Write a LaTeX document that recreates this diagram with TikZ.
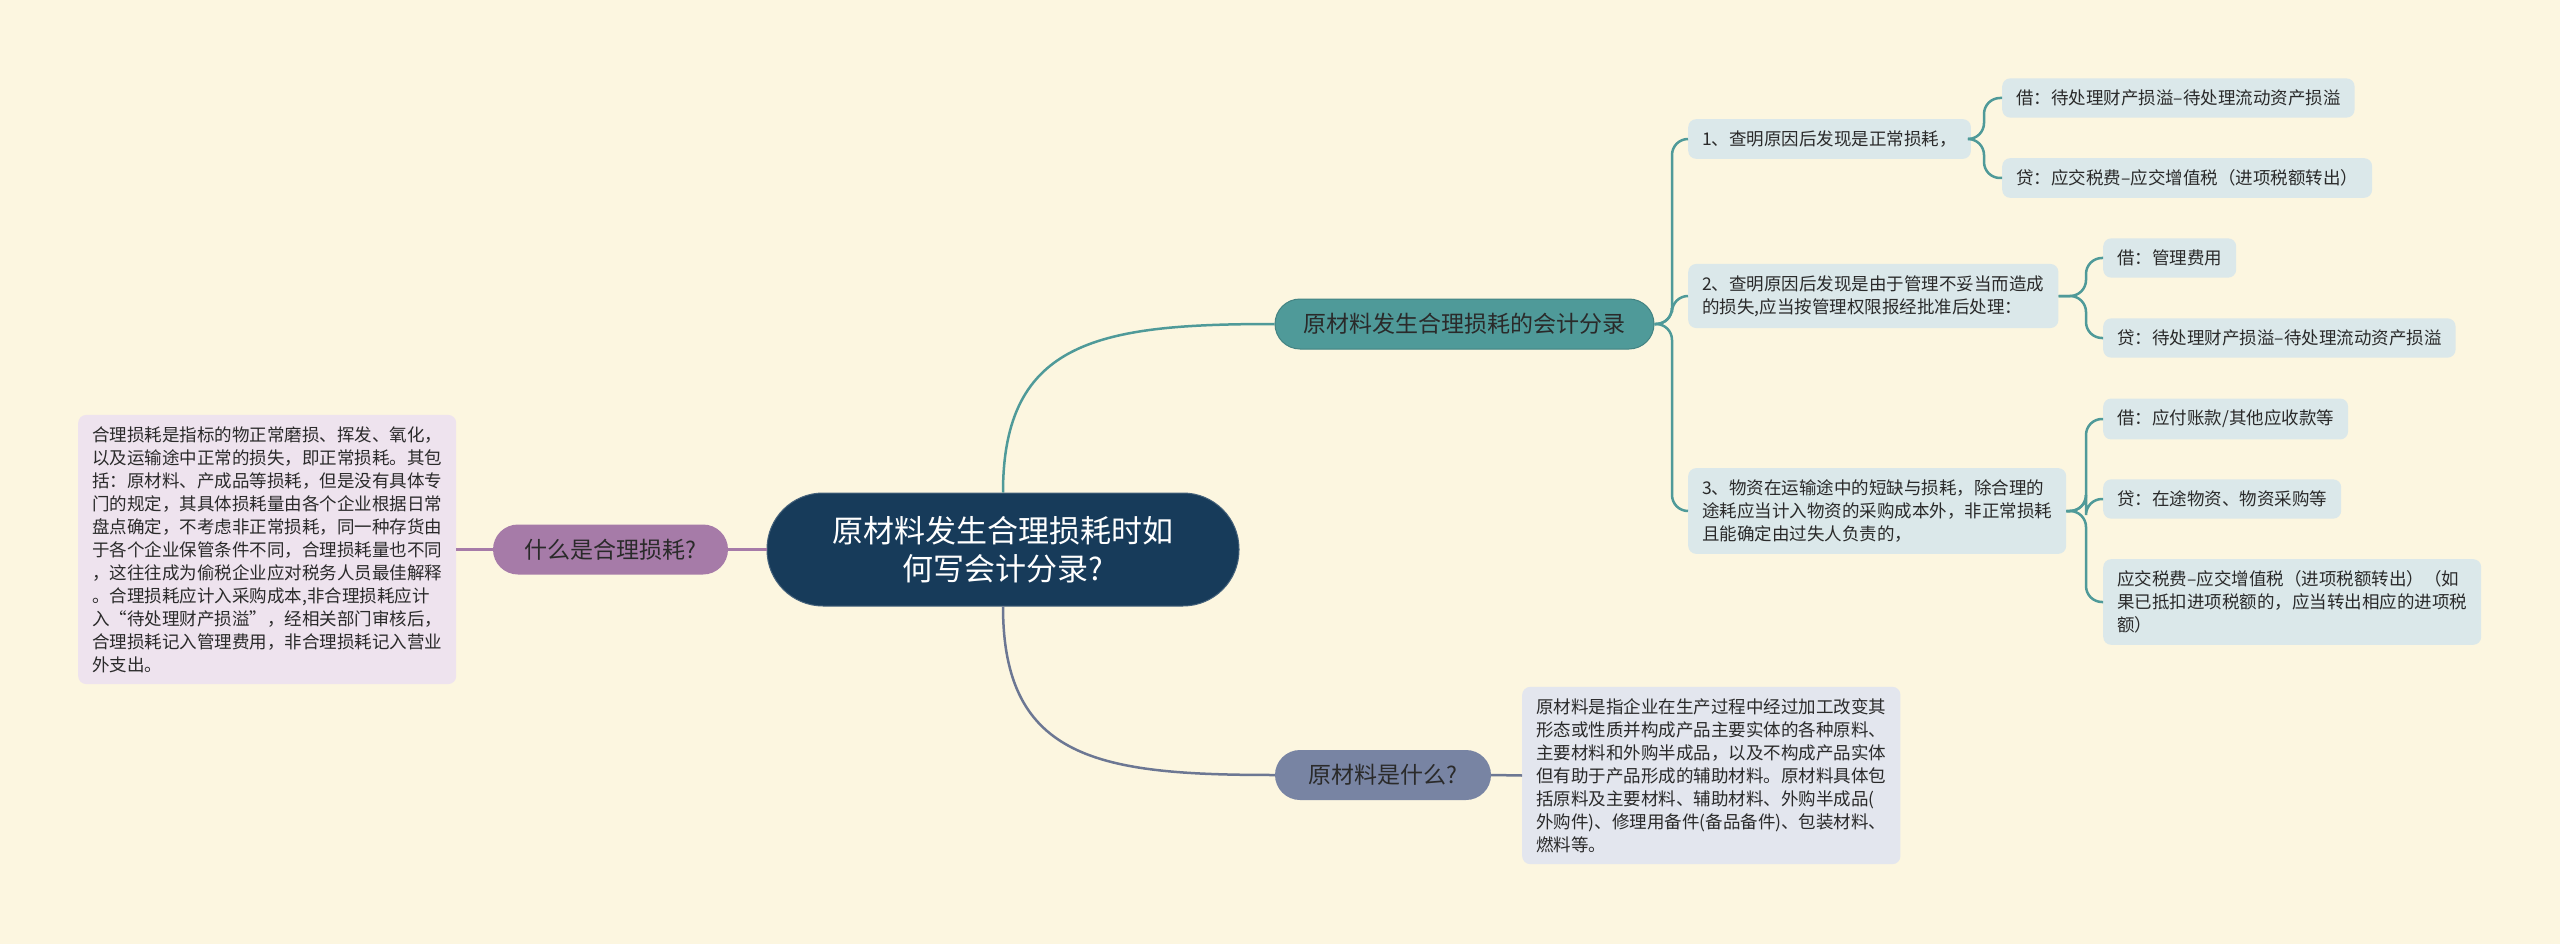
\documentclass[tikz,border=0pt]{standalone}
\usepackage{fontspec}
\setmainfont{Noto Sans CJK SC}
\definecolor{bgcream}{HTML}{FCF6E0}
\definecolor{navy}{HTML}{173B5A}
\definecolor{tealfill}{HTML}{4F9A99}
\definecolor{plum}{HTML}{A67BA8}
\definecolor{slate}{HTML}{7884A3}
\definecolor{leafblue}{HTML}{DBE8EA}
\definecolor{lavender}{HTML}{EEE3EE}
\definecolor{mist}{HTML}{E3E6EE}
\definecolor{inkdark}{HTML}{2A2A2A}
\tikzset{
  rootbox/.style={fill=navy, draw=navy!80!white, line width=1pt, rounded corners=56pt,
    minimum width=472pt, minimum height=113pt, text=white, align=center,
    font=\fontsize{31}{38}\selectfont},
  branchbox/.style={rounded corners=25pt, minimum height=50pt, text=inkdark,
    font=\fontsize{23}{28}\selectfont},
  leafbox/.style={fill=leafblue, rounded corners=8pt, anchor=west, align=left,
    inner xsep=14pt, inner ysep=11.5pt, text=inkdark,
    font=\fontsize{17.5}{23}\selectfont},
  link/.style={line width=2.5pt, rounded corners=16pt},
}
\begin{document}
\begin{tikzpicture}[x=1pt,y=-1pt]
  \fill[bgcream] (0,0) rectangle (2560,944);
  \useasboundingbox (0,0) rectangle (2560,944);
  % centre
  \node[rootbox] (root) at (1003,549.5) {原材料发生合理损耗时如\\何写会计分录?};
  % left branch
  \node[branchbox, fill=plum, minimum width=235pt] (what) at (610.5,549.5) {什么是合理损耗?};
  \node[leafbox, fill=lavender] (whatnote) at (78,549.5) {合理损耗是指标的物正常磨损、挥发、氧化，\\
    以及运输途中正常的损失，即正常损耗。其包\\
    括：原材料、产成品等损耗，但是没有具体专\\
    门的规定，其具体损耗量由各个企业根据日常\\
    盘点确定，不考虑非正常损耗，同一种存货由\\
    于各个企业保管条件不同，合理损耗量也不同\\
    ，这往往成为偷税企业应对税务人员最佳解释\\
    。合理损耗应计入采购成本,非合理损耗应计\\
    入“待处理财产损溢”，经相关部门审核后，\\
    合理损耗记入管理费用，非合理损耗记入营业\\
    外支出。};
  \draw[link, plum] (root.west) -- (what.east);
  \draw[link, plum] (what.west) -- (whatnote.east);
  % bottom branch
  \node[branchbox, fill=slate, minimum width=216pt] (raw) at (1383,775) {原材料是什么?};
  \node[leafbox, fill=mist] (rawnote) at (1522,775.5) {原材料是指企业在生产过程中经过加工改变其\\
    形态或性质并构成产品主要实体的各种原料、\\
    主要材料和外购半成品，以及不构成产品实体\\
    但有助于产品形成的辅助材料。原材料具体包\\
    括原料及主要材料、辅助材料、外购半成品(\\
    外购件)、修理用备件(备品备件)、包装材料、\\
    燃料等。};
  \draw[link, slate!90!black] (root.south) .. controls (1003,760) and (1100,775) .. (raw.west);
  \draw[link, slate!90!black] (raw.east) -- (rawnote.west);
  % top branch
  \node[branchbox, fill=tealfill, draw=tealfill!85!black, line width=1pt, minimum width=379pt] (entry) at (1464.5,324) {原材料发生合理损耗的会计分录};
  \draw[link, tealfill] (root.north) .. controls (1003,340) and (1100,324) .. (entry.west);
  \node[leafbox] (case1) at (1688,139) {1、查明原因后发现是正常损耗，};
  \node[leafbox] (case2) at (1688,296) {2、查明原因后发现是由于管理不妥当而造成\\的损失,应当按管理权限报经批准后处理：};
  \node[leafbox] (case3) at (1688,511) {3、物资在运输途中的短缺与损耗，除合理的\\途耗应当计入物资的采购成本外，非正常损耗\\且能确定由过失人负责的，};
  \foreach \c in {case1,case2,case3}
    \draw[link, tealfill] (entry.east) -- (1672,324) |- (\c.west);
  % case 1
  \node[leafbox] (dr1) at (2002,98) {借：待处理财产损溢–待处理流动资产损溢};
  \node[leafbox] (cr1) at (2002,178) {贷：应交税费–应交增值税（进项税额转出）};
  \foreach \c in {dr1,cr1}
    \draw[link, tealfill] (case1.east) -- (1984,139) |- (\c.west);
  % case 2
  \node[leafbox] (dr2) at (2103,258) {借：管理费用};
  \node[leafbox] (cr2) at (2103,338) {贷：待处理财产损溢–待处理流动资产损溢};
  \foreach \c in {dr2,cr2}
    \draw[link, tealfill] (case2.east) -- (2086,296) |- (\c.west);
  % case 3
  \node[leafbox] (dr3) at (2103,419) {借：应付账款/其他应收款等};
  \node[leafbox] (cr3) at (2103,499) {贷：在途物资、物资采购等};
  \node[leafbox] (tax3) at (2103,602) {应交税费–应交增值税（进项税额转出）（如\\果已抵扣进项税额的，应当转出相应的进项税\\额）};
  \foreach \c in {dr3,cr3,tax3}
    \draw[link, tealfill] (case3.east) -- (2086,511) |- (\c.west);
\end{tikzpicture}
\end{document}
